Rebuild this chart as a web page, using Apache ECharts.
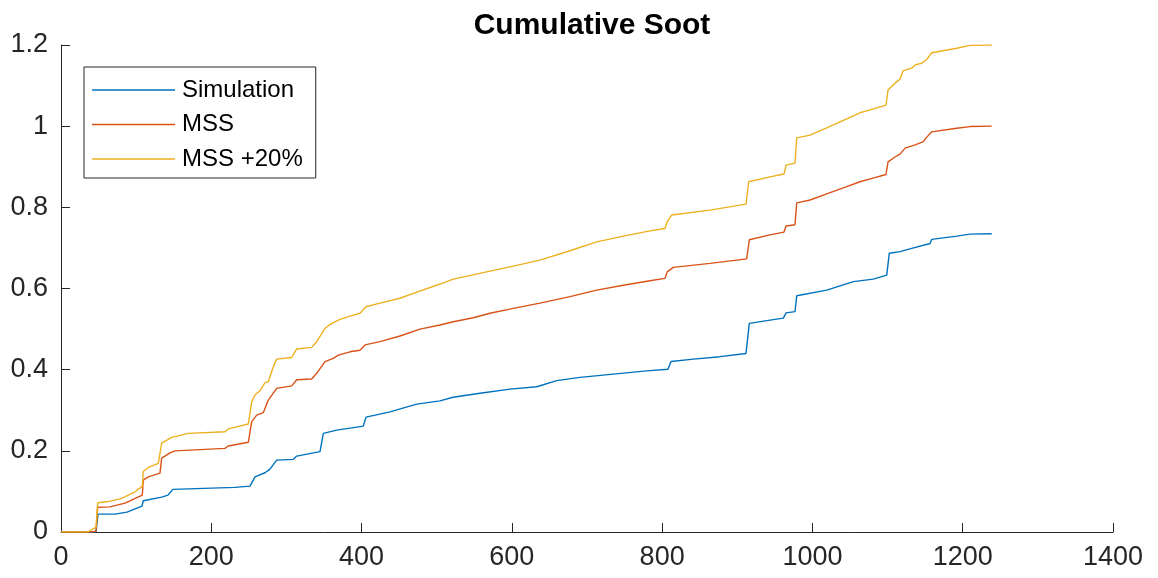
<!DOCTYPE html>
<html>
<head>
<meta charset="utf-8">
<script src="https://cdn.jsdelivr.net/npm/echarts@6/dist/echarts.min.js"></script>
<style>
html,body{margin:0;padding:0;background:#fff;}
#chart{width:1158px;height:578px;}
</style>
</head>
<body>
<div id="chart"></div>
<script>
// ---- Data ----
const titleText = "Cumulative Soot";
const seriesNames = ["Simulation", "MSS", "MSS +20%"];
const xTicks = [0, 200, 400, 600, 800, 1000, 1200, 1400];
const yTicks = [0, 0.2, 0.4, 0.6, 0.8, 1, 1.2];

const simX = [0, 46.6, 48.2, 49.2, 71.9, 87.8, 107.8, 109.5, 134, 142.4, 145, 149, 231.6, 251.5, 258.2, 271.5, 278.1, 287, 309.2, 313.7, 344.7, 349.1, 366.9, 402.3, 405.9, 437.8, 473.4, 504.4, 521.7, 557.6, 597.6, 633.1, 659.7, 690.7, 735, 779.5, 807.8, 811.8, 841.5, 877, 911.6, 916, 943.6, 961.3, 964.9, 976.8, 979.1, 1019, 1054.4, 1081, 1098.9, 1102.3, 1116.6, 1132.2, 1134.3, 1156.5, 1158.8, 1192, 1209.7, 1238.6];
const simY = [0, 0, 0.004, 0.044, 0.044, 0.049, 0.064, 0.077, 0.086, 0.091, 0.095, 0.105, 0.110, 0.113, 0.136, 0.146, 0.155, 0.177, 0.179, 0.187, 0.198, 0.243, 0.251, 0.261, 0.283, 0.296, 0.315, 0.323, 0.332, 0.342, 0.352, 0.358, 0.373, 0.381, 0.389, 0.397, 0.401, 0.420, 0.426, 0.432, 0.440, 0.514, 0.522, 0.527, 0.540, 0.543, 0.582, 0.596, 0.617, 0.623, 0.633, 0.687, 0.691, 0.699, 0.703, 0.711, 0.721, 0.729, 0.734, 0.735];

const mssX = [0, 40.9, 46.6, 48.8, 65.2, 85.2, 108.2, 109.5, 116.2, 131.7, 134, 145.1, 151.7, 218.3, 222.6, 249.3, 253.8, 260.4, 269.2, 275.9, 287, 307, 313.7, 333.6, 340.3, 351.3, 362.4, 369, 384.6, 397.9, 404.6, 424.5, 451.1, 477.8, 504.4, 522.1, 548.7, 570.9, 601.9, 637.4, 677.3, 712.9, 748.3, 783.8, 803.8, 806.8, 814.8, 863.7, 912.5, 916, 943.6, 962.2, 964.9, 976.8, 979.1, 996.9, 1019, 1045.6, 1063.3, 1080.6, 1097.9, 1100.6, 1109.9, 1116.6, 1123.3, 1136.6, 1147.6, 1152.2, 1158.8, 1192, 1209.7, 1238.6];
const mssY = [0, 0, 0.002, 0.061, 0.062, 0.071, 0.091, 0.128, 0.136, 0.145, 0.182, 0.195, 0.200, 0.206, 0.212, 0.221, 0.272, 0.288, 0.294, 0.325, 0.354, 0.360, 0.375, 0.377, 0.391, 0.420, 0.428, 0.436, 0.444, 0.448, 0.461, 0.469, 0.483, 0.500, 0.510, 0.518, 0.528, 0.539, 0.551, 0.564, 0.580, 0.596, 0.608, 0.619, 0.625, 0.641, 0.652, 0.662, 0.673, 0.720, 0.732, 0.739, 0.754, 0.757, 0.811, 0.818, 0.833, 0.851, 0.863, 0.872, 0.881, 0.912, 0.924, 0.931, 0.946, 0.954, 0.962, 0.973, 0.986, 0.995, 0.999, 1.0];

const mss20X = [0, 35.9, 46.6, 48.8, 62.9, 80.8, 98.5, 108.2, 109.5, 116.2, 129.5, 134, 147.3, 169.4, 218.3, 222.6, 249.3, 253.8, 258.2, 264.8, 271.5, 275.9, 282.5, 287, 307, 313.7, 333.6, 340.3, 351.3, 360.2, 371.3, 384.6, 397.9, 405.9, 424.5, 451.1, 468.8, 504.4, 522.1, 566.5, 601.9, 637.4, 677.3, 712.9, 748.3, 783.8, 803.8, 806.8, 812.7, 863.7, 911.6, 915.2, 943.6, 962.2, 964.9, 976.8, 979.1, 996.9, 1019, 1045.6, 1063.3, 1080.6, 1097.9, 1100.6, 1109.9, 1116.6, 1121, 1132.2, 1136.6, 1145.4, 1152.2, 1158.8, 1192, 1209.7, 1238.6];
const mss20Y = [0, 0, 0.012, 0.072, 0.075, 0.083, 0.099, 0.113, 0.149, 0.159, 0.169, 0.219, 0.233, 0.243, 0.247, 0.254, 0.266, 0.321, 0.338, 0.348, 0.368, 0.370, 0.407, 0.426, 0.430, 0.451, 0.455, 0.469, 0.502, 0.514, 0.524, 0.532, 0.539, 0.555, 0.564, 0.576, 0.588, 0.611, 0.623, 0.641, 0.655, 0.670, 0.693, 0.715, 0.729, 0.742, 0.748, 0.765, 0.781, 0.793, 0.808, 0.863, 0.875, 0.882, 0.904, 0.909, 0.971, 0.978, 0.996, 1.018, 1.033, 1.042, 1.052, 1.089, 1.106, 1.116, 1.137, 1.143, 1.151, 1.155, 1.165, 1.181, 1.192, 1.199, 1.2];

const colors = ["#0072BD", "#D95319", "#EDB120"];

function zip(xs, ys) { return xs.map((x, i) => [x, ys[i]]); }

const chart = echarts.init(document.getElementById('chart'), null, {renderer: 'canvas'});
const axisColor = '#262626';
const font = 'Liberation Sans, Arial, Helvetica, sans-serif';

const option = {
  animation: false,
  backgroundColor: '#ffffff',
  title: {
    text: titleText,
    left: 587,
    top: 6,
    textAlign: 'center',
    textStyle: {fontFamily: font, fontSize: 30, fontWeight: 'bold', color: '#000000'}
  },
  legend: {
    orient: 'vertical',
    left: 84,
    top: 67,
    data: seriesNames.map(n => ({name: n, icon: 'rect'})),
    itemWidth: 83,
    itemHeight: 1.5,
    itemGap: 6.5,
    padding: [9, 13, 5, 8],
    borderColor: axisColor,
    borderWidth: 1,
    backgroundColor: '#ffffff',
    textStyle: {fontFamily: font, fontSize: 24, color: '#000000', lineHeight: 28, padding: [0, 0, 0, 2]}
  },
  grid: {left: 61, right: 45, top: 45, bottom: 46, containLabel: false},
  xAxis: {
    type: 'value',
    min: xTicks[0],
    max: xTicks[xTicks.length - 1],
    interval: xTicks[1] - xTicks[0],
    axisLine: {show: true, onZero: false, lineStyle: {color: axisColor, width: 1}},
    axisTick: {show: true, inside: true, length: 9, lineStyle: {color: axisColor}},
    axisLabel: {fontFamily: font, fontSize: 27, color: axisColor, margin: 12,
      formatter: v => String(v)},
    splitLine: {show: false}
  },
  yAxis: {
    type: 'value',
    min: yTicks[0],
    max: yTicks[yTicks.length - 1],
    interval: 0.2,
    axisLine: {show: true, onZero: false, lineStyle: {color: axisColor, width: 1}},
    axisTick: {show: true, inside: true, length: 9, lineStyle: {color: axisColor}},
    axisLabel: {fontFamily: font, fontSize: 27, color: axisColor, margin: 13,
      formatter: v => String(Math.round(v * 10) / 10)},
    splitLine: {show: false}
  },
  series: [
    {name: seriesNames[0], type: 'line', data: zip(simX, simY), showSymbol: false, symbol: 'none',
     lineStyle: {color: colors[0], width: 1.4}, itemStyle: {color: colors[0]}},
    {name: seriesNames[1], type: 'line', data: zip(mssX, mssY), showSymbol: false, symbol: 'none',
     lineStyle: {color: colors[1], width: 1.4}, itemStyle: {color: colors[1]}},
    {name: seriesNames[2], type: 'line', data: zip(mss20X, mss20Y), showSymbol: false, symbol: 'none',
     lineStyle: {color: colors[2], width: 1.4}, itemStyle: {color: colors[2]}}
  ]
};
chart.setOption(option);
</script>
</body>
</html>
